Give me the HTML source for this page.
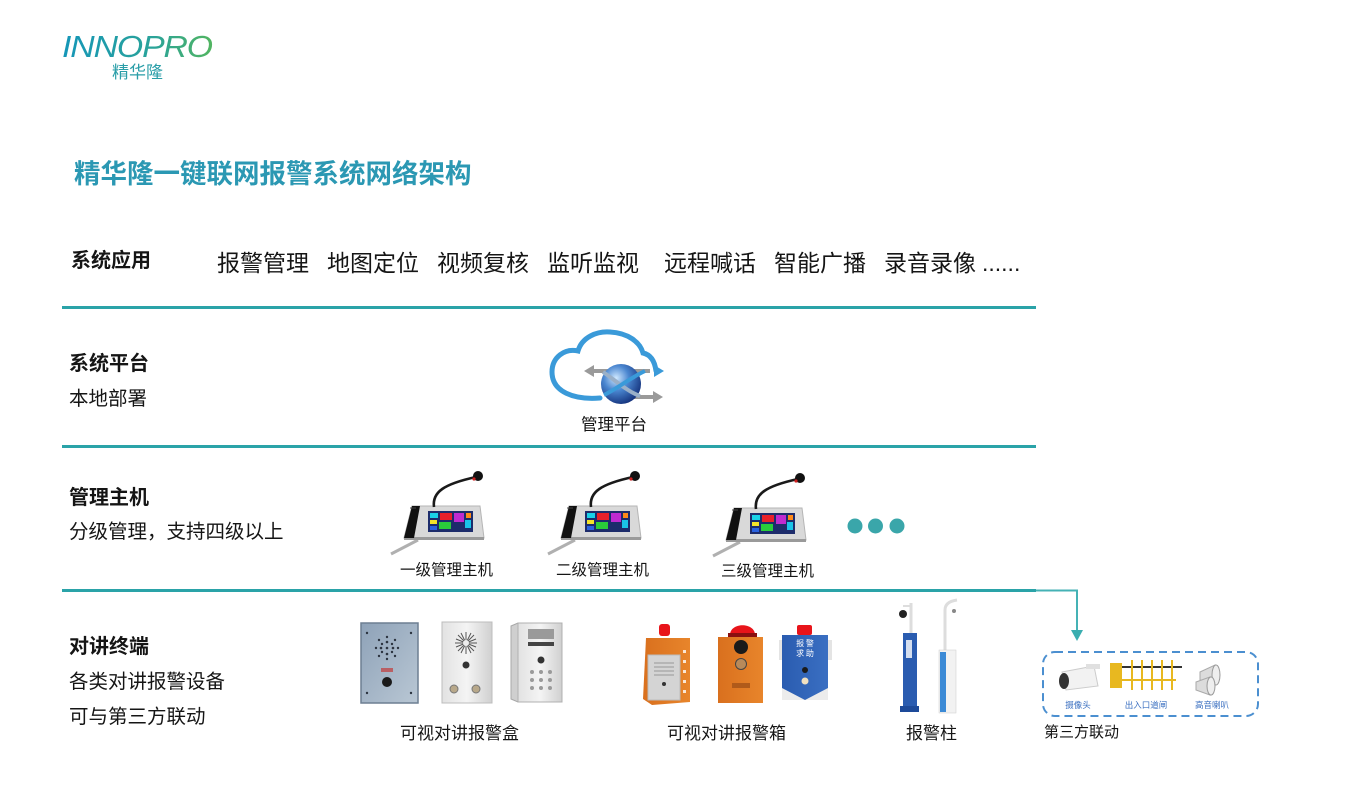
<!DOCTYPE html>
<html><head><meta charset="utf-8">
<style>
html,body{margin:0;padding:0;background:#fff;}
body{width:1366px;height:811px;position:relative;overflow:hidden;font-family:"Liberation Sans","Noto Sans CJK SC",sans-serif;color:#151515;}
.t{position:absolute;white-space:nowrap;line-height:1;}
.b{font-weight:bold;}
svg{position:absolute;left:0;top:0;}
</style></head>
<body>
<svg width="1366" height="811" viewBox="0 0 1366 811">
<defs>
<linearGradient id="lg" x1="0" x2="1" y1="0" y2="0">
<stop offset="0" stop-color="#1596b8"/><stop offset="0.6" stop-color="#2aa39a"/><stop offset="1" stop-color="#52b560"/>
</linearGradient>
<radialGradient id="globe" cx="0.38" cy="0.35" r="0.7">
<stop offset="0" stop-color="#cfe8ff"/><stop offset="0.45" stop-color="#4a86d0"/><stop offset="1" stop-color="#13307a"/>
</radialGradient>
<linearGradient id="steel" x1="0" x2="1" y1="0" y2="1">
<stop offset="0" stop-color="#8ea2b8"/><stop offset="1" stop-color="#b9c7d4"/>
</linearGradient>
<linearGradient id="silver" x1="0" x2="1">
<stop offset="0" stop-color="#e2e2e2"/><stop offset="0.5" stop-color="#f4f4f4"/><stop offset="1" stop-color="#d0d0d0"/>
</linearGradient>
<linearGradient id="orng" x1="0" x2="1">
<stop offset="0" stop-color="#d9701e"/><stop offset="1" stop-color="#e8852b"/>
</linearGradient>
<linearGradient id="blu" x1="0" x2="1">
<stop offset="0" stop-color="#2a5cb0"/><stop offset="1" stop-color="#3a6fc2"/>
</linearGradient>
<g id="phone">
<line x1="30" y1="70" x2="3" y2="84" stroke="#b0b0b0" stroke-width="3"/>
<polygon points="24,36 92,36 96,68 16,68" fill="#d9d9d9" stroke="#b5b5b5" stroke-width="1"/>
<rect x="16" y="67" width="80" height="3" fill="#9a9a9a"/>
<rect x="40" y="41" width="45" height="21" fill="#1d2c6b"/>
<rect x="42" y="43" width="8" height="5" fill="#19d2e8"/>
<rect x="52" y="43" width="12" height="7" fill="#e8202a"/>
<rect x="66" y="43" width="10" height="9" fill="#c02ad0"/>
<rect x="78" y="43" width="5" height="5" fill="#ff8a1a"/>
<rect x="42" y="50" width="7" height="4" fill="#f4e32a"/>
<rect x="51" y="52" width="12" height="7" fill="#2acc3a"/>
<rect x="77" y="50" width="6" height="8" fill="#1ac4e8"/>
<rect x="42" y="56" width="7" height="4" fill="#2a62e0"/>
<path d="M24 36 L32 36 L26 68 L16 68 Z" fill="#111"/>
<path d="M22 38 L28 38" stroke="#444" stroke-width="1"/>
<path d="M46 37 C44 22 56 14 88 7" stroke="#1a1a1a" stroke-width="2.6" fill="none"/>
<circle cx="90" cy="6" r="5" fill="#111"/>
<circle cx="86" cy="9" r="1.6" fill="#d02020"/>
</g>
</defs>

<!-- logo -->
<text x="62" y="57" font-family="Liberation Sans, sans-serif" font-size="31" font-style="italic" fill="url(#lg)" textLength="150" lengthAdjust="spacingAndGlyphs" style="letter-spacing:-1px">INNOPRO</text>

<!-- dividers -->
<line x1="62" y1="307.5" x2="1036" y2="307.5" stroke="#2aa3a8" stroke-width="3"/>
<line x1="62" y1="446.5" x2="1036" y2="446.5" stroke="#2aa3a8" stroke-width="3"/>
<line x1="62" y1="590.5" x2="1036" y2="590.5" stroke="#2aa3a8" stroke-width="3"/>
<path d="M1036 590.5 L1077 590.5 L1077 631" stroke="#45b2b5" stroke-width="2" fill="none"/>
<polygon points="1071,630 1083,630 1077,641" fill="#3aaeb0"/>

<!-- cloud -->
<path d="M600 398 C574 400 552 392 552 372 C552 357 565 348 578 351 C582 337 597 331 610 332 C628 333 640 342 643 353 C652 355 655 363 656 371" stroke="#3a9ad9" stroke-width="5" fill="none" stroke-linecap="round"/>
<line x1="592" y1="371" x2="650" y2="371" stroke="#9a9a9a" stroke-width="4"/>
<polygon points="584,371 594,365 594,377" fill="#9a9a9a"/>
<polygon points="664,371 654,365 654,377" fill="#3a9ad9"/>
<line x1="618" y1="397" x2="654" y2="397" stroke="#9a9a9a" stroke-width="4"/>
<polygon points="663,397 653,391 653,403" fill="#9a9a9a"/>
<circle cx="621" cy="384" r="20" fill="url(#globe)"/>
<path d="M603 372 C615 380 628 392 640 396" stroke="#9ab0c8" stroke-width="4" fill="none"/>
<path d="M604 395 C618 388 630 378 645 371" stroke="#3a9ad9" stroke-width="4" fill="none"/>

<!-- phones -->
<use href="#phone" x="388" y="470"/>
<use href="#phone" x="545" y="470"/>
<use href="#phone" x="710" y="472"/>

<!-- dots -->
<circle cx="855" cy="526" r="7.5" fill="#3aa6aa"/>
<circle cx="875.5" cy="526" r="7.5" fill="#3aa6aa"/>
<circle cx="897" cy="526" r="7.5" fill="#3aa6aa"/>

<!-- intercom box 1 -->
<rect x="361" y="623" width="57" height="80" fill="url(#steel)" stroke="#6d7f92" stroke-width="1.5"/>
<g fill="#2c3440">
<circle cx="387" cy="648" r="1.3"/><circle cx="381" cy="648" r="1.3"/><circle cx="393" cy="648" r="1.3"/><circle cx="387" cy="642" r="1.3"/><circle cx="387" cy="654" r="1.3"/>
<circle cx="376" cy="648" r="1.2"/><circle cx="398" cy="648" r="1.2"/><circle cx="387" cy="637" r="1.2"/><circle cx="387" cy="659" r="1.2"/>
<circle cx="379" cy="640" r="1.2"/><circle cx="395" cy="640" r="1.2"/><circle cx="379" cy="656" r="1.2"/><circle cx="395" cy="656" r="1.2"/>
<circle cx="382" cy="644" r="1.2"/><circle cx="392" cy="644" r="1.2"/><circle cx="382" cy="652" r="1.2"/><circle cx="392" cy="652" r="1.2"/>
<circle cx="367" cy="633" r="1.2"/><circle cx="411" cy="633" r="1.2"/><circle cx="367" cy="693" r="1.2"/><circle cx="411" cy="693" r="1.2"/>
</g>
<rect x="381" y="668" width="12" height="4" fill="#c23a3a" opacity="0.7"/>
<circle cx="387" cy="682" r="5" fill="#1a1a1a"/>

<!-- intercom box 2 -->
<rect x="442" y="622" width="50" height="81" fill="url(#silver)" stroke="#bdbdbd" stroke-width="1"/>
<g stroke="#555" stroke-width="1">
<line x1="466" y1="643" x2="466" y2="632"/><line x1="466" y1="643" x2="466" y2="654"/><line x1="466" y1="643" x2="455" y2="643"/><line x1="466" y1="643" x2="477" y2="643"/>
<line x1="466" y1="643" x2="458" y2="635"/><line x1="466" y1="643" x2="474" y2="635"/><line x1="466" y1="643" x2="458" y2="651"/><line x1="466" y1="643" x2="474" y2="651"/>
<line x1="466" y1="643" x2="461" y2="633"/><line x1="466" y1="643" x2="471" y2="633"/><line x1="466" y1="643" x2="461" y2="653"/><line x1="466" y1="643" x2="471" y2="653"/>
<line x1="466" y1="643" x2="456" y2="639"/><line x1="466" y1="643" x2="476" y2="639"/><line x1="466" y1="643" x2="456" y2="647"/><line x1="466" y1="643" x2="476" y2="647"/>
</g>
<circle cx="466" cy="643" r="3" fill="#eee"/>
<circle cx="466" cy="665" r="3.5" fill="#333"/>
<circle cx="454" cy="689" r="4" fill="#b8a88a" stroke="#777"/>
<circle cx="476" cy="689" r="4" fill="#b8a88a" stroke="#777"/>

<!-- intercom box 3 -->
<polygon points="511,626 518,623 562,623 562,702 518,702 511,699" fill="#cfcfcf" stroke="#a8a8a8"/>
<rect x="518" y="623" width="44" height="79" fill="url(#silver)" stroke="#b0b0b0"/>
<rect x="528" y="629" width="26" height="10" fill="#9a9a9a"/>
<rect x="528" y="642" width="26" height="4" fill="#444"/>
<circle cx="541" cy="660" r="3.5" fill="#333"/>
<g fill="#9a9a9a">
<circle cx="532" cy="672" r="2"/><circle cx="541" cy="672" r="2"/><circle cx="550" cy="672" r="2"/>
<circle cx="532" cy="680" r="2"/><circle cx="541" cy="680" r="2"/><circle cx="550" cy="680" r="2"/>
<circle cx="532" cy="688" r="2"/><circle cx="541" cy="688" r="2"/><circle cx="550" cy="688" r="2"/>
</g>

<!-- orange box 1 -->
<rect x="659" y="624" width="11" height="12" rx="3" fill="#e8141a"/>
<path d="M646 638 L690 638 L690 702 L652 705 L643 699 Z" fill="url(#orng)"/>
<rect x="648" y="655" width="32" height="45" fill="#d4d4d4" stroke="#bbb"/>
<g stroke="#999" stroke-width="1"><line x1="654" y1="663" x2="674" y2="663"/><line x1="654" y1="667" x2="674" y2="667"/><line x1="654" y1="671" x2="674" y2="671"/><line x1="654" y1="675" x2="674" y2="675"/></g>
<circle cx="664" cy="684" r="2" fill="#333"/>
<g fill="#fff" opacity="0.8"><rect x="683" y="650" width="3" height="3"/><rect x="683" y="660" width="3" height="3"/><rect x="683" y="670" width="3" height="3"/><rect x="683" y="680" width="3" height="3"/><rect x="683" y="690" width="3" height="3"/></g>

<!-- orange box 2 -->
<path d="M730 635 C730 622 755 622 755 635 Z" fill="#e8141a"/>
<rect x="728" y="633" width="29" height="4" fill="#8a1010"/>
<rect x="718" y="637" width="45" height="66" fill="url(#orng)"/>
<circle cx="741" cy="647" r="7" fill="#1a1a1a"/>
<circle cx="741" cy="664" r="5.5" fill="#b88a5a" stroke="#444"/>
<rect x="732" y="683" width="18" height="5" fill="#b05a1a"/>

<!-- blue box -->
<rect x="797" y="625" width="15" height="10" rx="2" fill="#e8141a"/>
<rect x="779" y="640" width="6" height="20" fill="#e4e4e4"/>
<rect x="826" y="640" width="6" height="20" fill="#e4e4e4"/>
<path d="M782 635 L828 635 L828 690 L812 700 L798 700 L782 690 Z" fill="url(#blu)"/>
<path d="M782 688 L805 700 L828 688 L828 700 L782 700 Z" fill="#ececec"/>
<text x="805" y="646" font-size="8" fill="#fff" text-anchor="middle" font-family="Noto Sans CJK SC, sans-serif">报 警</text>
<text x="805" y="656" font-size="8" fill="#fff" text-anchor="middle" font-family="Noto Sans CJK SC, sans-serif">求 助</text>
<circle cx="805" cy="670" r="3" fill="#1a1a1a"/>
<circle cx="805" cy="681" r="3.5" fill="#f0e0c0"/>

<!-- pole 1 -->
<line x1="911" y1="603" x2="911" y2="633" stroke="#ddd" stroke-width="3"/>
<line x1="903" y1="606" x2="912" y2="606" stroke="#ddd" stroke-width="2"/>
<circle cx="903" cy="614" r="4" fill="#222"/>
<rect x="903" y="633" width="14" height="74" fill="#2a5cb0"/>
<rect x="906" y="640" width="6" height="18" fill="#fff" opacity="0.8"/>
<rect x="900" y="706" width="19" height="6" fill="#1d4a99"/>
<!-- pole 2 -->
<path d="M945 651 L945 610 C945 604 950 601 957 600" stroke="#ddd" stroke-width="3" fill="none"/>
<circle cx="954" cy="611" r="2" fill="#888"/>
<rect x="939" y="650" width="17" height="63" fill="#f2f2f2" stroke="#ccc" stroke-width="0.5"/>
<rect x="940" y="652" width="6" height="60" fill="#3b8ad6"/>

<!-- third party -->
<rect x="1043" y="652" width="215" height="64" rx="12" fill="none" stroke="#4b8fd0" stroke-width="2" stroke-dasharray="8 5"/>
<!-- camera -->
<path d="M1062 672 L1094 666 L1098 686 L1066 690 Z" fill="#f2f2f2" stroke="#ccc"/>
<ellipse cx="1064" cy="681" rx="5" ry="8" fill="#333"/>
<rect x="1086" y="664" width="14" height="5" fill="#e0e0e0"/>
<!-- gate -->
<rect x="1110" y="663" width="12" height="25" fill="#e8b820"/>
<line x1="1122" y1="667" x2="1182" y2="667" stroke="#333" stroke-width="2"/>
<line x1="1122" y1="680" x2="1176" y2="680" stroke="#e8b820" stroke-width="2"/>
<g stroke="#e8b820" stroke-width="2"><line x1="1132" y1="660" x2="1132" y2="690"/><line x1="1142" y1="660" x2="1142" y2="690"/><line x1="1152" y1="660" x2="1152" y2="690"/><line x1="1162" y1="660" x2="1162" y2="690"/><line x1="1172" y1="660" x2="1172" y2="690"/></g>
<!-- speakers -->
<path d="M1200 672 L1215 665 L1215 685 L1200 680 Z" fill="#dcdcdc" stroke="#aaa"/>
<ellipse cx="1216" cy="675" rx="4" ry="10" fill="#eee" stroke="#999"/>
<path d="M1196 682 L1210 677 L1210 695 L1196 690 Z" fill="#dcdcdc" stroke="#aaa"/>
<ellipse cx="1211" cy="686" rx="4" ry="9" fill="#eee" stroke="#999"/>
<g font-size="8.5" fill="#3a6fc0" font-family="Noto Sans CJK SC, sans-serif" text-anchor="middle">
<text x="1078" y="708">摄像头</text><text x="1146" y="708">出入口道闸</text><text x="1212" y="708">高音喇叭</text>
</g>
</svg>

<div class="t" style="left:112px;top:63.5px;font-size:17px;color:#2a9ea8;">精华隆</div>
<div class="t b" style="left:74px;top:160.5px;font-size:26.5px;color:#2b98b3;">精华隆一键联网报警系统网络架构</div>

<div class="t b" style="left:71px;top:251px;font-size:20px;">系统应用</div>
<div class="t" style="left:217px;top:252px;font-size:23px;">报警管理</div>
<div class="t" style="left:327px;top:252px;font-size:23px;">地图定位</div>
<div class="t" style="left:437px;top:252px;font-size:23px;">视频复核</div>
<div class="t" style="left:547px;top:252px;font-size:23px;">监听监视</div>
<div class="t" style="left:664px;top:252px;font-size:23px;">远程喊话</div>
<div class="t" style="left:774px;top:252px;font-size:23px;">智能广播</div>
<div class="t" style="left:884px;top:252px;font-size:23px;">录音录像</div>
<div class="t" style="left:982px;top:252px;font-size:23px;">......</div>

<div class="t b" style="left:69px;top:354px;font-size:20px;">系统平台</div>
<div class="t" style="left:69px;top:389.5px;font-size:19.5px;">本地部署</div>
<div class="t" style="left:581px;top:416.5px;font-size:16.5px;">管理平台</div>

<div class="t b" style="left:69px;top:488px;font-size:20px;">管理主机</div>
<div class="t" style="left:69px;top:523px;font-size:19.5px;">分级管理，支持四级以上</div>
<div class="t" style="left:400px;top:563px;font-size:15.5px;">一级管理主机</div>
<div class="t" style="left:556px;top:563px;font-size:15.5px;">二级管理主机</div>
<div class="t" style="left:721px;top:564px;font-size:15.5px;">三级管理主机</div>

<div class="t b" style="left:69px;top:637px;font-size:20px;">对讲终端</div>
<div class="t" style="left:69px;top:673px;font-size:19.5px;">各类对讲报警设备</div>
<div class="t" style="left:69px;top:707.5px;font-size:19.5px;">可与第三方联动</div>

<div class="t" style="left:400px;top:724.5px;font-size:17px;">可视对讲报警盒</div>
<div class="t" style="left:667px;top:724.5px;font-size:17px;">可视对讲报警箱</div>
<div class="t" style="left:906px;top:724.5px;font-size:17px;">报警柱</div>
<div class="t" style="left:1044px;top:724.5px;font-size:15px;">第三方联动</div>
</body></html>
